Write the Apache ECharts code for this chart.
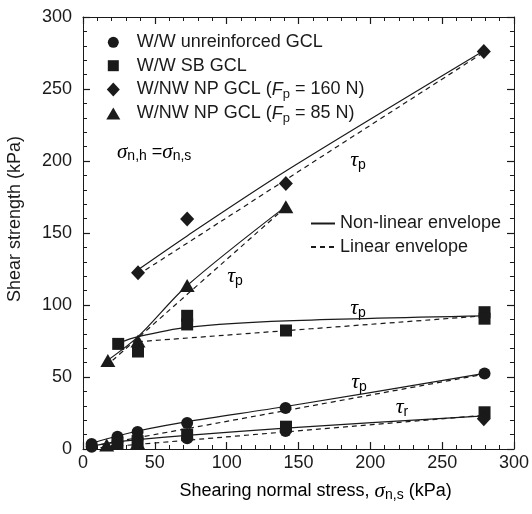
<!DOCTYPE html>
<html><head><meta charset="utf-8">
<script src="https://cdn.jsdelivr.net/npm/echarts@6/dist/echarts.min.js"></script>
<style>html,body{margin:0;padding:0;background:#fff}#c{width:532px;height:514px}</style>
</head><body><div id="c"></div>
<script>
// ---- measured points (x = shearing normal stress kPa, y = shear strength kPa)
const unreinforcedPeak = [[6,3.5],[24,8.5],[38,11.8],[72.5,18],[141,28.5],[279.5,52.5]];
const unreinforcedResidual = [[6,1.5],[24,5],[38,7],[72.5,7.5],[141,12.5]];
const sbPeak = [[24.5,73],[38.3,67.7],[72.5,92.5],[72.5,86.5],[141.3,82.3],[279.5,95],[279.5,90.5]];
const sbResidual = [[24,4],[38,5.5],[72.5,10],[141.3,15.5],[279.5,25.5]];
const np160Peak = [[38.3,122.4],[72.5,159.7],[141.2,184.3],[279,276]];
const np160Residual = [[279,21]];
const np85Peak = [[17.3,61.5],[38.3,75],[72.5,113.5],[141.2,168.3]];
const np85Residual = [[16.5,2.8],[38,4.4]];

// ---- envelopes
const np160NonLinear = [[38.3,124.5],[72.5,148],[141.2,193],[279,276.5]];
const np160Linear = [[38.3,121],[279,275.5]];
const np85NonLinear = [[15,60],[38.3,78],[72.5,113.5],[141.2,168.5]];
const np85Linear = [[16,57.5],[141.2,168]];
const sbNonLinear = [[24.5,73.5],[38.3,78],[72.5,84.5],[141.3,89],[279.5,92.5]];
const sbLinear = [[38.3,74.5],[279.5,92.5]];
const peakNonLinear = [[6,4],[24,9],[38,12.5],[72.5,19],[141,29.5],[279.5,52.5]];
const peakLinear = [[6,2],[279.5,52]];
const residualNonLinear = [[6,2],[24,5],[38,6.5],[72.5,9.5],[141,14.5],[279.5,23]];
const residualLinear = [[6,0.5],[279.5,23.5]];

const seriesNames = ['W/W unreinforced GCL','W/W SB GCL','W/NW NP GCL (Fp = 160 N)','W/NW NP GCL (Fp = 85 N)'];
const envelopeNames = ['Non-linear envelope','Linear envelope'];

const SANS = "'Liberation Sans', Arial, Helvetica, sans-serif";
const SERIF = "'Liberation Serif', 'DejaVu Serif', serif";
const INK = '#1a1a1a';
const FS = 18;

const chart = echarts.init(document.getElementById('c'), null, {renderer:'canvas'});

function axisCommon(pos, showLabel){
  return {
    type:'value', min:0, max:300, interval:50, position:pos,
    axisLine:{show:true, onZero:false, lineStyle:{color:INK, width:1}},
    axisTick:{show:true, inside:true, length:7, lineStyle:{color:INK, width:1.2}},
    minorTick:{show:true, splitNumber:5, length:4, lineStyle:{color:INK, width:1}},
    splitLine:{show:false}, minorSplitLine:{show:false},
    axisLabel:{show:showLabel, fontSize:FS, color:INK, fontFamily:SANS}
  };
}
const xB = axisCommon('bottom', true); xB.axisLabel.margin = 5;
const xT = axisCommon('top', false);
const yL = axisCommon('left', true); yL.axisLabel.margin = 11; yL.axisLabel.padding=[5,0,0,0];
const yR = axisCommon('right', false);

function scatter(name, symbol, size, data){
  return {name, type:'scatter', symbol, symbolSize:size, data, z:5,
    itemStyle:{color:INK, opacity:1}, emphasis:{disabled:true}, silent:true};
}
function env(name, data, dashed){
  return {name, type:'line', data, symbol:'none', smooth:0.3, z:3, silent:true,
    itemStyle:{color:INK},
    lineStyle:{color:INK, width:1.2, type: dashed ? [5,4] : 'solid'}};
}

const rich = {
  a:{fontSize:FS, fontFamily:SANS, color:INK},
  i:{fontSize:FS, fontFamily:SANS, fontStyle:'italic', color:INK},
  s:{fontSize:13, fontFamily:SANS, color:INK, padding:[9,0,0,0]}
};

function markerLegend(name, top, icon, w, h, fmt){
  return {data:[{name, icon}], left:113.3-w/2, top:top-10, orient:'vertical', itemWidth:w, itemHeight:h,
    selectedMode:false, padding:0,
    textStyle:{fontSize:FS, fontFamily:SANS, color:INK, padding:[0,0,0,136.7-(113.3+w/2)-5], rich:rich},
    formatter: fmt || (n => n)};
}
function lineLegend(name, top){
  return {data:[name], left:310, top:top-10, itemWidth:24, itemHeight:14, selectedMode:false, padding:0,
    itemStyle:{opacity:0},
    textStyle:{fontSize:FS, fontFamily:SANS, color:INK}};
}

const tauRich = {
  t:{fontSize:22, fontFamily:SERIF, fontStyle:'italic', color:INK},
  s:{fontSize:14, fontFamily:SANS, color:INK, padding:[10,0,0,0]}
};
function tau(x, y, sub){
  return {type:'text', x, y, silent:true, style:{text:'{t|τ}{s|'+sub+'}', rich:tauRich, align:'center', verticalAlign:'middle'}};
}
const sigRich = {
  i:{fontSize:21, fontFamily:SERIF, fontStyle:'italic', color:INK},
  a:{fontSize:FS, fontFamily:SANS, color:INK},
  s:{fontSize:14, fontFamily:SANS, color:INK, padding:[9,0,0,0]}
};

const option = {
  animation:false,
  backgroundColor:'#fff',
  grid:{left:83, right:16, top:17, bottom:65, containLabel:false},
  xAxis:[xB, xT],
  yAxis:[yL, yR],
  legend:[
    markerLegend(seriesNames[0], 43.3, 'circle', 11, 11),
    markerLegend(seriesNames[1], 66.7, 'rect', 11, 11),
    markerLegend(seriesNames[2], 90.5, 'diamond', 13, 14, () => '{a|W/NW NP GCL (}{i|F}{s|p}{a| = 160 N)}'),
    markerLegend(seriesNames[3], 114.5, 'triangle', 14, 12, () => '{a|W/NW NP GCL (}{i|F}{s|p}{a| = 85 N)}'),
    lineLegend(envelopeNames[0], 224.5),
    lineLegend(envelopeNames[1], 248)
  ],
  series:[
    env(envelopeNames[0], np160NonLinear, false),
    env(envelopeNames[1], np160Linear, true),
    env(envelopeNames[0], np85NonLinear, false),
    env(envelopeNames[1], np85Linear, true),
    env(envelopeNames[0], sbNonLinear, false),
    env(envelopeNames[1], sbLinear, true),
    env(envelopeNames[0], peakNonLinear, false),
    env(envelopeNames[1], peakLinear, true),
    env(envelopeNames[0], residualNonLinear, false),
    env(envelopeNames[1], residualLinear, true),
    scatter(seriesNames[0], 'circle', 12, unreinforcedPeak.concat(unreinforcedResidual)),
    scatter(seriesNames[1], 'rect', 12, sbPeak.concat(sbResidual)),
    scatter(seriesNames[2], 'diamond', [14,15], np160Peak.concat(np160Residual)),
    scatter(seriesNames[3], 'triangle', [15,13], np85Peak.concat(np85Residual))
  ],
  graphic:[
    {type:'text', x:15, y:219, rotation:Math.PI/2, silent:true,
      style:{text:'Shear strength (kPa)', fontSize:FS, fontFamily:SANS, fill:INK, align:'center', verticalAlign:'middle'}},
    {type:'text', x:315.6, y:491, silent:true,
      style:{text:'{a|Shearing normal stress, }{i|σ}{s|n,s}{a| (kPa)}', rich:sigRich, align:'center', verticalAlign:'middle'}},
    {type:'text', x:117, y:152, silent:true,
      style:{text:'{i|σ}{s|n,h}{a| =}{i|σ}{s|n,s}', rich:sigRich, align:'left', verticalAlign:'middle'}},
    tau(358, 160, 'p'),
    tau(235, 276, 'p'),
    tau(358, 308, 'p'),
    tau(359, 382, 'p'),
    tau(402, 407, 'r')
  ]
};
chart.setOption(option);
</script></body></html>
